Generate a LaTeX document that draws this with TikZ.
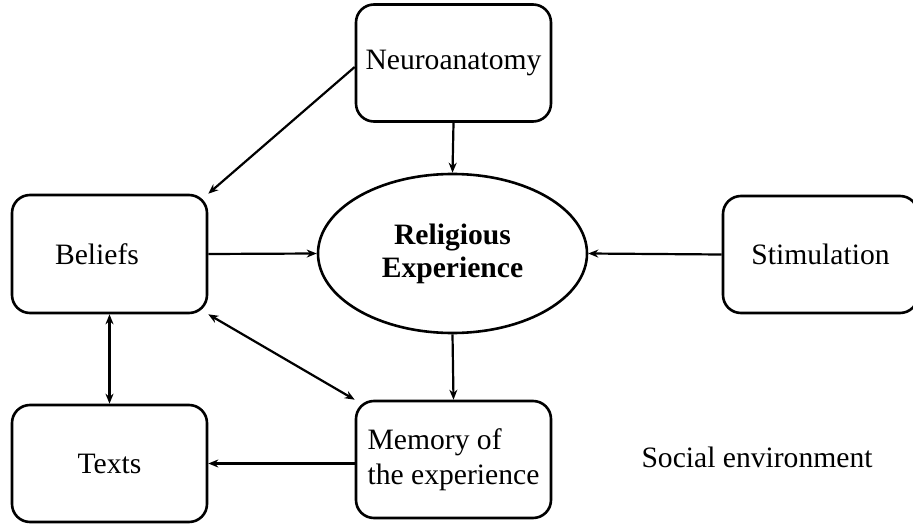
\documentclass[tikz,border=0pt]{standalone}
\usepackage{fontspec}
\setmainfont{Liberation Serif}
\usetikzlibrary{arrows.meta,shapes.geometric}
\begin{document}
\begin{tikzpicture}[x=1pt,y=-1pt,
  box/.style={draw,line width=2.6pt,rounded corners=18pt,minimum width=195pt,minimum height=117pt,inner sep=0pt,font=\fontsize{29.6}{35}\selectfont},
  conn/.style={line width=2.2pt,-{Stealth[length=10pt,width=8pt]}},
  bconn/.style={line width=2.2pt,{Stealth[length=10pt,width=8pt]}-{Stealth[length=10pt,width=8pt]}}]
\useasboundingbox (0,0) rectangle (913,524);
\node[box] (neuro) at (453.5,63) {Neuroanatomy};
\node[box,minimum height=118pt] (beliefs) at (109.5,254) {\hspace*{-25pt}Beliefs};
\node[box] (texts) at (109.5,463.5) {Texts};
\node[box,align=left] (memory) at (453.5,459.5) {Memory of\\the experience};
\node[box] (stim) at (820.5,254.5) {Stimulation};
\node[draw,ellipse,line width=2.6pt,minimum width=269pt,minimum height=159pt,inner sep=0pt,align=center,font=\fontsize{29.6}{33}\selectfont\bfseries] (ell) at (452.5,253.5) {Religious\\Experience};
\node[font=\fontsize{29.6}{35}\selectfont] (social) at (757,457) {Social environment};
\draw[conn] (neuro.south) -- (ell.north);
\draw[conn] (neuro.west) ++(0,4) coordinate (nw) (nw) -- (beliefs.north east);
\draw[conn] (beliefs.east) -- (ell.west);
\draw[conn] (stim.west) -- (ell.east);
\draw[conn] (ell.south) -- (memory.north);
\draw[bconn] (beliefs.south) -- (texts.north);
\draw[bconn] (beliefs.south east) -- (memory.north west);
\draw[conn] (memory.west |- texts.east) -- (texts.east);
\end{tikzpicture}
\end{document}
